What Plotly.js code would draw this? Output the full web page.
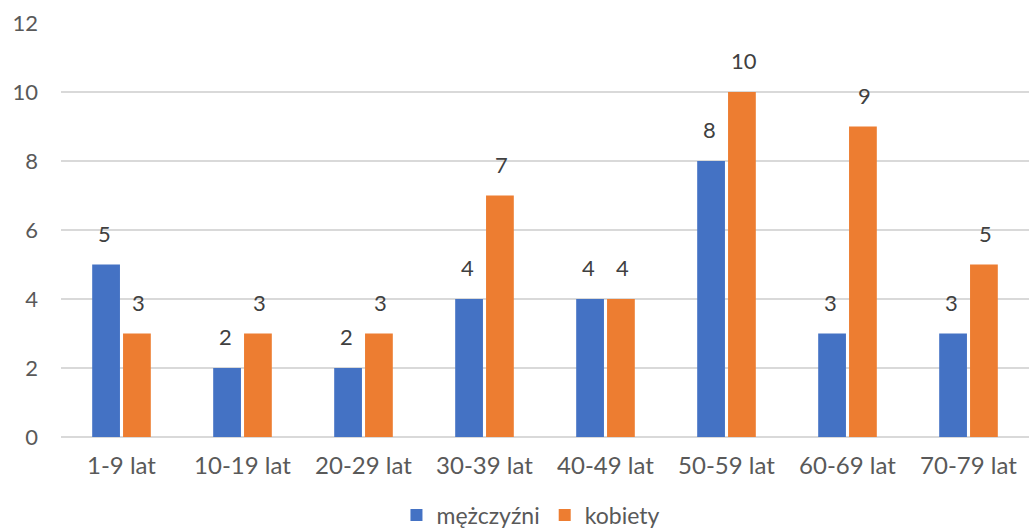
<!DOCTYPE html>
<html><head><meta charset="utf-8">
<script src="https://cdn.plot.ly/plotly-3.0.1.min.js"></script>
<style>html,body{margin:0;padding:0;background:#fff}#c{width:1029px;height:531px}</style>
</head><body><div id="c"></div>
<script>
const categories = ["1-9 lat","10-19 lat","20-29 lat","30-39 lat","40-49 lat","50-59 lat","60-69 lat","70-79 lat"];
const men = [5,2,2,4,4,8,3,3];
const women = [3,3,3,7,4,10,9,5];
const seriesNames = ["mężczyźni","kobiety"];
const yTicks = [0,2,4,6,8,10,12];

const fam = "Lato, 'Open Sans', sans-serif";
const traces = [
  {type:"bar", name:seriesNames[0], x:categories, y:men, marker:{color:"#4472C4"}, hoverinfo:"none"},
  {type:"bar", name:seriesNames[1], x:categories, y:women, marker:{color:"#ED7D31"}, hoverinfo:"none"}
];
const annotations = [];
[men, women].forEach((arr, si) => {
  arr.forEach((v, i) => {
    annotations.push({x:categories[i], y:v, xref:"x", yref:"y", text:String(v), showarrow:false,
      xanchor:"center", yanchor:"bottom", xshift: si===0 ? -17 : 17, yshift:16,
      font:{family:fam, size:22, color:"#404040"}});
  });
});
const layout = {
  width:1029, height:531,
  margin:{l:61, r:0, t:23, b:94},
  paper_bgcolor:"#fff", plot_bgcolor:"#fff",
  barmode:"group", bargap:0.49, bargroupgap:0.1,
  font:{family:fam, size:22, color:"#595959"},
  xaxis:{type:"category", automargin:false, showgrid:false, zeroline:false, showline:false, ticks:"", ticklabelstandoff:12, tickfont:{family:fam, size:24, color:"#595959"}},
  yaxis:{range:[0,12], automargin:false, tickvals:yTicks, showgrid:true, gridcolor:"#d9d9d9", gridwidth:1.5, zeroline:true, zerolinecolor:"#d9d9d9", zerolinewidth:2, showline:false, ticks:"", ticklabelstandoff:22, tickfont:{family:fam, size:22, color:"#595959"}},
  showlegend:true,
  legend:{orientation:"h", x:0.516, xref:"container", xanchor:"center", y:0.03, yref:"container", yanchor:"middle", font:{family:fam, size:23, color:"#595959"}, itemwidth:20, traceorder:"normal"},
  annotations:annotations
};
Plotly.newPlot("c", traces, layout, {displayModeBar:false, staticPlot:true});
</script></body></html>
